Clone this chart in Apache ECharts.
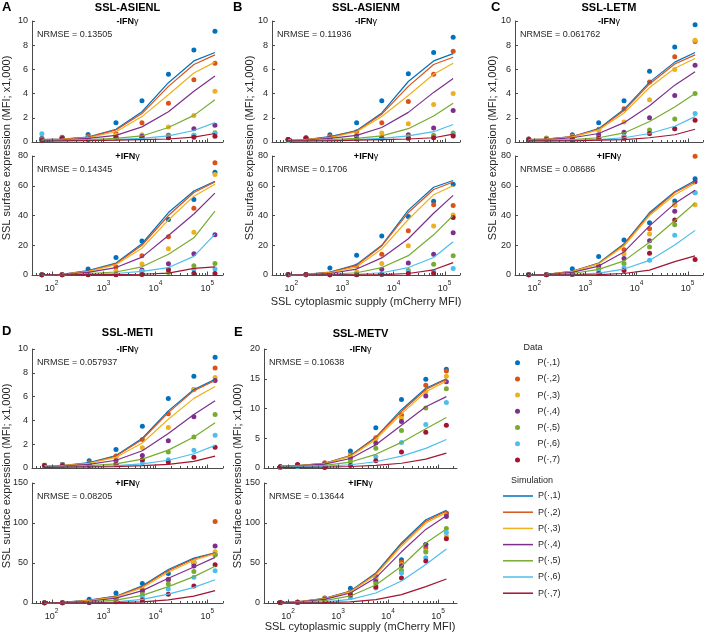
<!DOCTYPE html>
<html><head><meta charset="utf-8">
<script src="https://cdn.jsdelivr.net/npm/echarts@6/dist/echarts.min.js"></script>
<style>html,body{margin:0;padding:0;background:#fff}#c{width:708px;height:636px}</style>
</head><body><div id="c"></div>
<script>
// ---------- DATA ----------
const seriesNames = ['P(\u00b7,1)','P(\u00b7,2)','P(\u00b7,3)','P(\u00b7,4)','P(\u00b7,5)','P(\u00b7,6)','P(\u00b7,7)'];
const panelTitles = ['SSL-ASIENL','SSL-ASIENM','SSL-LETM','SSL-METI','SSL-METV'];
const panelLetters = ['A','B','C','D','E'];
const nrmseMinus = ['0.13505','0.11936','0.061762','0.057937','0.10638'];
const nrmsePlus  = ['0.14345','0.1706','0.08686','0.08205','0.13644'];
const xTickValues = [30,40,50,60,70,80,90,100,200,300,400,500,600,700,800,900,1000,2000,3000,4000,5000,6000,7000,8000,9000,10000,20000,30000,40000,50000,60000,70000,80000,90000,100000,200000];
const xMajorTicks = [100,1000,10000,100000];

const xA = [65, 160, 505, 1740, 5500, 17800, 55000, 140000];
const xB = [87, 194, 570, 1900, 5900, 19500, 61000, 147000];
const xC = [78, 173, 555, 1820, 5700, 18000, 56000, 140000];
const xD = [73, 162, 530, 1740, 5600, 17700, 55000, 141000];
const xE = [70, 155, 540, 1770, 5700, 18600, 57000, 147000];

// A  -IFN
const dotA1 = [
 [0.3,0.35,0.63,1.6,3.4,5.6,7.6,9.15],
 [0.2,0.3,0.45,0.7,1.6,3.2,5.15,6.5],
 [0.25,0.3,0.4,0.55,0.6,1.25,2.2,4.2],
 [0.25,0.4,0.35,0.4,0.47,0.55,1.1,1.38],
 [0.2,0.3,0.3,0.35,0.35,0.5,0.55,0.77],
 [0.69,0.35,0.3,0.3,0.4,0.4,0.55,0.7],
 [0.15,0.3,0.2,0.35,0.4,0.35,0.4,0.47]];
const simA1 = [
 [0.2,0.25,0.4,1.05,2.5,4.9,6.7,7.4],
 [0.2,0.25,0.38,1.0,2.35,4.6,6.4,7.2],
 [0.18,0.22,0.35,0.85,2.1,3.9,5.7,6.6],
 [0.15,0.18,0.3,0.55,1.25,2.5,4.2,5.45],
 [0.12,0.15,0.2,0.3,0.5,1.2,2.2,3.5],
 [0.1,0.12,0.15,0.2,0.3,0.5,0.95,1.6],
 [0.08,0.1,0.12,0.15,0.2,0.25,0.4,0.7]];
// A  +IFN
const dotA2 = [
 [0.2,0.3,4,11.8,22.8,37.3,50.7,69],
 [0.2,0.3,1,5.6,13,25.7,44.9,75.5],
 [0.2,0.3,0.5,2.7,7.4,17.7,28.8,67.5],
 [0.1,0.2,0.3,0.5,3.4,7.6,14.3,27],
 [0.1,0.2,0.3,0.5,1,1.6,6.3,7.8],
 [0.1,0.2,0.3,0.3,2.5,3.8,3.8,4],
 [0.1,0.1,0.2,0.2,0.4,3.6,1.1,1.0]];
const simA2 = [
 [0.3,0.5,3,8,21,42,56.5,63],
 [0.3,0.5,2.7,7.5,20,40,55.5,62.5],
 [0.3,0.4,2.3,7,18,37,53,61],
 [0.2,0.3,1.8,5,12,26.5,41,55],
 [0.1,0.2,1,2,5.5,14,25,43],
 [0.05,0.1,0.5,1,2.5,5,12.5,27.5],
 [0.02,0.05,0.2,0.3,0.5,1.3,4.5,5.5]];
// B  -IFN
const dotB1 = [
 [0.2,0.35,0.6,1.6,3.4,5.65,7.4,8.65],
 [0.2,0.35,0.45,0.85,1.6,3.35,5.6,7.5],
 [0.15,0.3,0.4,0.6,0.75,1.5,3.1,4.0],
 [0.2,0.3,0.35,0.5,0.35,0.6,1.15,2.6],
 [0.15,0.25,0.3,0.3,0.3,0.45,0.55,0.75],
 [0.15,0.25,0.3,0.3,0.3,0.3,0.4,0.6],
 [0.2,0.3,0.3,0.25,0.3,0.3,0.35,0.5]];
const simB1 = [
 [0.15,0.2,0.45,0.95,2.4,5.0,6.7,7.3],
 [0.15,0.2,0.4,0.9,2.3,4.6,6.4,7.0],
 [0.15,0.2,0.35,0.85,2.1,3.85,5.6,6.5],
 [0.1,0.15,0.3,0.55,1.2,2.45,4.1,5.25],
 [0.1,0.12,0.2,0.3,0.5,1.1,2.15,3.2],
 [0.1,0.1,0.15,0.2,0.3,0.5,0.85,1.45],
 [0.1,0.1,0.1,0.15,0.2,0.25,0.35,0.65]];
// B  +IFN
const dotB2 = [
 [0.3,0.3,4.7,13.3,26.3,39.3,49.6,61],
 [0.2,0.3,0.5,6,14,29.8,47.3,46.7],
 [0.2,0.2,0.3,2,7.8,19.6,33,40.4],
 [0.2,0.2,0.2,0.5,3.8,8,14,28.4],
 [0.1,0.2,0.2,0.3,0.5,3,7.3,13],
 [0.1,0.2,0.2,0.3,0.3,2,2.4,4.4],
 [0.3,0.3,0.1,0.1,0.5,1,1,38.7]];
const simB2 = [
 [0.3,0.5,2,7,20,43.6,59,63.5],
 [0.3,0.5,1.8,6.5,19.5,42,57.5,62.5],
 [0.3,0.4,1.5,5.5,17.5,37.3,54,60],
 [0.2,0.3,1,4,11.5,24.4,41.5,53.5],
 [0.1,0.2,0.5,1.5,5,13,27,40],
 [0.1,0.1,0.2,0.5,1.5,5,11.8,22.4],
 [0,0.05,0.1,0.1,0.3,1,3.5,8.3]];
// C  -IFN
const dotC1 = [
 [0.25,0.3,0.6,1.6,3.4,5.85,7.85,9.7],
 [0.25,0.3,0.5,1.05,2.75,4.95,7.05,8.3],
 [0.2,0.3,0.45,1.0,1.65,3.5,6.0,8.4],
 [0.2,0.25,0.4,0.6,0.8,2.0,3.85,6.35],
 [0.2,0.25,0.3,0.35,0.5,1.0,1.9,4.0],
 [0.2,0.25,0.3,0.3,0.45,0.7,1.1,2.35],
 [0.2,0.2,0.2,0.3,0.3,0.7,1.1,1.8]];
const simC1 = [
 [0.2,0.25,0.45,1.1,2.7,4.95,6.6,7.4],
 [0.2,0.25,0.45,1.05,2.6,4.8,6.45,7.2],
 [0.2,0.25,0.4,1.0,2.4,4.5,6.1,6.9],
 [0.15,0.2,0.35,0.7,1.6,3.0,4.7,5.8],
 [0.15,0.15,0.2,0.35,0.75,1.7,2.9,4.0],
 [0.1,0.1,0.15,0.2,0.35,0.7,1.3,2.1],
 [0.1,0.1,0.1,0.15,0.2,0.35,0.6,1.05]];
// C  +IFN
const dotC2 = [
 [0.3,0.3,4.2,12.4,23.6,35.1,49.8,64.7],
 [0.2,0.3,1,6,16.9,31.1,47.1,79.8],
 [0.2,0.3,0.5,5,14.2,27.6,47.3,47.3],
 [0.2,0.2,0.5,6.2,11.1,23.1,42.9,62.7],
 [0.3,0.3,0.3,3.8,7.8,18.9,33.8,55.3],
 [0.3,0.3,0.3,2,4.9,10,26.7,55.3],
 [0.2,0.2,0.5,1,3.1,14.7,36.9,10.4]];
const simC2 = [
 [0.3,0.5,2.5,8,21,42,56,63.5],
 [0.3,0.5,2.5,7.8,20.5,41,55.5,62.5],
 [0.3,0.5,2.3,7.5,19.5,40,54,61.5],
 [0.2,0.4,1.8,6,15.5,33,48,57],
 [0.2,0.3,1,3.8,9.5,22,36.5,48.4],
 [0.1,0.1,0.3,1.2,4,9.8,20.2,30],
 [0,0.05,0.1,0.3,1,3.3,9,12.9]];
// D  -IFN
const dotD1 = [
 [0.2,0.3,0.6,1.55,3.5,5.85,7.7,9.3],
 [0.2,0.3,0.45,1.0,2.4,4.55,6.6,8.4],
 [0.25,0.3,0.4,0.9,1.7,3.4,6.6,7.6],
 [0.2,0.3,0.35,0.6,1.05,2.3,4.3,7.35],
 [0.2,0.25,0.3,0.35,0.7,1.35,2.6,4.5],
 [0.2,0.25,0.3,0.3,0.45,0.7,1.5,2.75],
 [0.2,0.2,0.2,0.3,0.7,0.5,0.9,1.75]];
const simD1 = [
 [0.15,0.2,0.45,1.05,2.5,4.8,6.6,7.45],
 [0.15,0.2,0.4,1.0,2.4,4.65,6.5,7.35],
 [0.15,0.2,0.4,0.9,2.1,4.1,5.85,6.85],
 [0.1,0.15,0.3,0.65,1.45,2.9,4.5,5.65],
 [0.1,0.12,0.2,0.35,0.75,1.5,2.6,3.8],
 [0.08,0.1,0.12,0.2,0.35,0.65,1.2,1.9],
 [0.05,0.07,0.1,0.12,0.2,0.3,0.55,1.0]];
// D  +IFN
const dotD2 = [
 [0.3,0.5,4.6,12.6,24.3,36.9,51.1,60.3],
 [0.3,0.5,2,7,17,29.7,49.4,102],
 [0.3,0.3,1.5,7,15,28.5,51.5,64],
 [0.3,0.3,1,5,15,29.3,46.1,71.2],
 [0.3,0.3,1,4,10.5,23.9,39.4,60.3],
 [0.3,0.3,0.5,2,7.5,17.6,32.2,40.2],
 [0.3,0.3,0.5,1.5,3.8,10.9,21.4,47.8]];
const simD2 = [
 [0.3,0.7,3.5,8.5,21.4,41.9,56.1,62.8],
 [0.3,0.7,3.3,8.2,20.5,40.5,55,62.5],
 [0.3,0.6,3,7.5,19,38.5,53.5,61.5],
 [0.2,0.5,2.2,6,15.5,31,45,57],
 [0.2,0.3,1.3,3.5,9.5,20.5,33,46],
 [0.1,0.2,0.5,1.5,4.5,11,19.5,29],
 [0.05,0.1,0.2,0.5,1.5,4,8.5,15.5]];
// E  -IFN
const dotE1 = [
 [0.2,0.3,0.6,2.85,6.75,11.5,14.9,16.6],
 [0.1,0.5,0.9,2.2,5.1,8.9,13.9,16.3],
 [0.1,0.4,0.7,2.0,4.9,8.3,12.8,15.4],
 [0.2,0.5,0.7,1.7,4.2,7.8,12.1,14.5],
 [0.1,0.3,0.5,1.1,3.3,6.3,10.1,13.3],
 [0.2,0.3,0.4,0.5,1.9,4.3,7.3,11.0],
 [0.2,0.6,0.1,0.4,1.2,2.7,6.0,7.2]];
const simE1 = [
 [0.3,0.4,0.8,2.1,5.2,9.8,13.4,15.0],
 [0.3,0.4,0.8,2.05,5.1,9.5,13.2,14.9],
 [0.3,0.4,0.75,1.95,4.8,9.1,12.8,14.6],
 [0.25,0.35,0.65,1.6,3.9,7.2,10.3,12.0],
 [0.2,0.3,0.45,1.0,2.3,4.3,6.6,8.5],
 [0.15,0.2,0.3,0.55,1.05,2.0,3.3,4.8],
 [0.1,0.12,0.15,0.25,0.45,0.8,1.5,2.5]];
// E  +IFN
const dotE2 = [
 [0.5,1,6.3,18.3,33.3,54,73,112],
 [0.5,1,5.5,14,30,51,69,112.5],
 [0.5,1,5,13,30,48,65,83],
 [0.5,1,4.5,11.7,27,46.7,73,108],
 [0.5,1,3.5,11.7,24,40.8,63.8,93],
 [1,1,2.5,6.5,18.8,37.5,56.7,88],
 [0.5,0.8,2,10,20,31.3,52.5,80.4]];
const simE2 = [
 [0.5,1.5,5.8,15,37.5,75,104,116],
 [0.5,1.5,5.5,14.5,36.5,73.5,102,115],
 [0.5,1.4,5.3,14,35,71,100,113],
 [0.4,1.2,4.5,12.5,31.5,64,92,109],
 [0.3,0.8,3,8.8,22.5,46,75,92.5],
 [0.2,0.4,1.5,4.5,12.5,27.5,48,67.5],
 [0.1,0.2,0.6,1.5,4.2,10.4,20.4,30]];

// ---------- STYLE / LAYOUT ----------
const colors = ['#0072BD','#D95319','#EDB120','#7E2F8E','#77AC30','#4DBEEE','#A2142F'];
const FONT = '"Liberation Sans", Arial, Helvetica, sans-serif';
const AX = '#4a4a4a', TXT = '#262626';

const plots = [
 {x:xA, dot:dotA1, sim:simA1, nr:nrmseMinus[0], sign:'-', g:[32,21,191,121], xr:[42,2e5], ymax:10, yint:2, lab:false},
 {x:xA, dot:dotA2, sim:simA2, nr:nrmsePlus[0],  sign:'+', g:[32,156,191,119], xr:[42,2e5], ymax:80, yint:20, lab:true},
 {x:xB, dot:dotB1, sim:simB1, nr:nrmseMinus[1], sign:'-', g:[272,21,188,121], xr:[42,2e5], ymax:10, yint:2, lab:false},
 {x:xB, dot:dotB2, sim:simB2, nr:nrmsePlus[1],  sign:'+', g:[272,156,188,119], xr:[42,2e5], ymax:80, yint:20, lab:true},
 {x:xC, dot:dotC1, sim:simC1, nr:nrmseMinus[2], sign:'-', g:[515,21,188,121], xr:[42,2e5], ymax:10, yint:2, lab:false},
 {x:xC, dot:dotC2, sim:simC2, nr:nrmsePlus[2],  sign:'+', g:[515,156,188,119], xr:[42,2e5], ymax:80, yint:20, lab:true},
 {x:xD, dot:dotD1, sim:simD1, nr:nrmseMinus[3], sign:'-', g:[32,349,191,119], xr:[42,2e5], ymax:10, yint:2, lab:false},
 {x:xD, dot:dotD2, sim:simD2, nr:nrmsePlus[3],  sign:'+', g:[32,483,191,120], xr:[42,2e5], ymax:150, yint:50, lab:true},
 {x:xE, dot:dotE1, sim:simE1, nr:nrmseMinus[4], sign:'-', g:[264,349,193,119], xr:[33,2.4e5], ymax:20, yint:5, lab:false},
 {x:xE, dot:dotE2, sim:simE2, nr:nrmsePlus[4],  sign:'+', g:[264,483,193,120], xr:[33,2.4e5], ymax:150, yint:50, lab:true}
];

const isPow10 = v => Math.abs(Math.log10(v) - Math.round(Math.log10(v))) < 1e-6;

const grid = [], xAxis = [], yAxis = [], series = [], graphic = [];
plots.forEach((p, i) => {
  grid.push({left:p.g[0], top:p.g[1], width:p.g[2], height:p.g[3], containLabel:false});
  xAxis.push({
    type:'log', logBase:10, gridIndex:i, min:p.xr[0], max:p.xr[1],
    axisLine:{show:true, lineStyle:{color:AX, width:1}},
    axisTick:{show:false}, splitLine:{show:false}, minorTick:{show:false},
    axisLabel:{show:p.lab, margin:5, color:TXT,
      formatter: v => isPow10(v) ? '{b|10}{s|' + Math.round(Math.log10(v)) + '}' : '',
      rich:{ b:{fontSize:9, fontFamily:FONT, color:TXT, lineHeight:13, verticalAlign:'bottom'},
             s:{fontSize:6.5, fontFamily:FONT, color:TXT, lineHeight:8, verticalAlign:'top'} }
    }
  });
  yAxis.push({
    type:'value', gridIndex:i, min:0, max:p.ymax, interval:p.yint,
    axisLine:{show:true, lineStyle:{color:AX, width:1}},
    axisTick:{show:true, inside:true, length:3, lineStyle:{color:AX}},
    splitLine:{show:false},
    axisLabel:{fontSize:9, fontFamily:FONT, color:TXT, margin:4}
  });
  // data dots
  p.dot.forEach((vals, k) => {
    series.push({type:'scatter', name:seriesNames[k], xAxisIndex:i, yAxisIndex:i,
      symbol:'circle', symbolSize:5, itemStyle:{color:colors[k], opacity:1},
      data: p.x.map((xv, j) => [xv, vals[j]]), z:2, silent:true});
  });
  // simulation lines
  p.sim.forEach((vals, k) => {
    series.push({type:'line', name:'Sim ' + seriesNames[k], xAxisIndex:i, yAxisIndex:i,
      symbol:'none', showSymbol:false, lineStyle:{color:colors[k], width:1.2}, itemStyle:{color:colors[k]},
      data: p.x.map((xv, j) => [xv, vals[j]]), z:3, silent:true});
  });
  // x ticks (major + minor) drawn through the axis scale
  series.push({type:'custom', xAxisIndex:i, yAxisIndex:i, silent:true, z:4, clip:false,
    data: xTickValues.filter(t => t >= p.xr[0] && t <= p.xr[1]).map(t => [t, 0]),
    encode:{x:0, y:1},
    renderItem: (params, api) => {
      const v = api.value(0);
      const c = api.coord([v, 0]);
      const len = xMajorTicks.indexOf(v) >= 0 ? 3.5 : 2;
      const x = Math.round(c[0]) + 0.5;
      return {type:'line', shape:{x1:x, y1:c[1], x2:x, y2:c[1] - len}, style:{stroke:AX, lineWidth:1}};
    }
  });
  // sub-title and NRMSE
  const cx = p.g[0] + p.g[2] / 2;
  graphic.push({type:'text', x:cx, y:p.g[1] + 1, silent:true, style:{
    text:'{b|' + p.sign + 'IFN}{g|\u03b3}', align:'center', verticalAlign:'middle',
    rich:{b:{fontSize:9, fontWeight:'bold', fontFamily:FONT, fill:'#000'}, g:{fontSize:9, fontFamily:FONT, fill:'#000'}}}});
  graphic.push({type:'text', x:p.g[0] + 5, y:p.g[1] + 14, silent:true, style:{
    text:'NRMSE = ' + p.nr, align:'left', verticalAlign:'middle', fontSize:9, fontFamily:FONT, fill:TXT}});
});

// panel letters & titles
const panelPos = [
  {lx:2, ly:7, tx:127.5, ty:8},
  {lx:233, ly:7, tx:366, ty:8},
  {lx:491, ly:7, tx:609, ty:8},
  {lx:2, ly:331, tx:127.5, ty:333},
  {lx:234, ly:332, tx:360.5, ty:334}
];
panelPos.forEach((pp, i) => {
  graphic.push({type:'text', x:pp.lx, y:pp.ly, silent:true, style:{text:panelLetters[i], align:'left', verticalAlign:'middle',
    fontSize:13, fontWeight:'bold', fontFamily:FONT, fill:'#000'}});
  graphic.push({type:'text', x:pp.tx, y:pp.ty, silent:true, style:{text:panelTitles[i], align:'center', verticalAlign:'middle',
    fontSize:11, fontWeight:'bold', fontFamily:FONT, fill:'#000'}});
});

// axis titles
const yTitle = 'SSL surface expression (MFI; x1,000)';
const xTitle = 'SSL cytoplasmic supply (mCherry MFI)';
[[7,148],[250,148],[493,148],[7,476],[238,476]].forEach(pt => {
  graphic.push({type:'text', x:pt[0], y:pt[1], rotation:Math.PI/2, silent:true, style:{text:yTitle, align:'center', verticalAlign:'middle',
    fontSize:11, fontFamily:FONT, fill:TXT}});
});
[[366,302],[360,627]].forEach(pt => {
  graphic.push({type:'text', x:pt[0], y:pt[1], silent:true, style:{text:xTitle, align:'center', verticalAlign:'middle',
    fontSize:11, fontFamily:FONT, fill:TXT}});
});
// legend headers
graphic.push({type:'text', x:533, y:347.5, silent:true, style:{text:'Data', align:'center', verticalAlign:'middle', fontSize:9, fontFamily:FONT, fill:TXT}});
graphic.push({type:'text', x:532, y:481, silent:true, style:{text:'Simulation', align:'center', verticalAlign:'middle', fontSize:9, fontFamily:FONT, fill:TXT}});

const option = {
  animation:false,
  textStyle:{fontFamily:FONT},
  grid, xAxis, yAxis, series, graphic,
  legend:[
    {data:seriesNames, orient:'vertical', left:510, top:352.2, itemWidth:30, itemHeight:5, itemGap:5.2,
     icon:'circle', selectedMode:false, textStyle:{fontSize:9, fontFamily:FONT, color:TXT, lineHeight:11}},
    {data:seriesNames.map(n => 'Sim ' + n), orient:'vertical', left:498, top:485.5, itemWidth:30, itemHeight:8, itemGap:5.2,
     icon:'path://M0,0L30,0L30,1.5L0,1.5Z',
     selectedMode:false, formatter: n => n.replace('Sim ', ''),
     textStyle:{fontSize:9, fontFamily:FONT, color:TXT, lineHeight:11}}
  ]
};
const chart = echarts.init(document.getElementById('c'), null, {renderer:'canvas'});
chart.setOption(option);
</script></body></html>
